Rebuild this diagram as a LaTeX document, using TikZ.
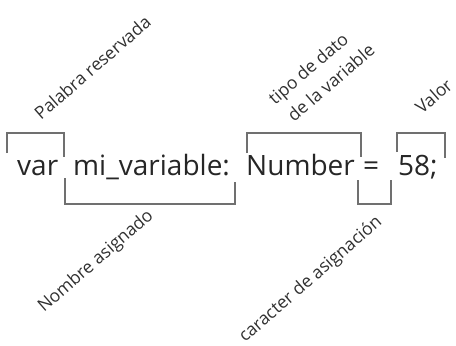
\documentclass[tikz,border=0pt]{standalone}
\usepackage{fontspec}
\setmainfont{Open Sans}
\definecolor{codeink}{HTML}{262626}
\definecolor{bracketgray}{HTML}{707070}
\definecolor{noteink}{HTML}{303030}
\begin{document}
\begin{tikzpicture}[x=1pt,y=-1pt,
  code/.style={anchor=base west,inner sep=0pt,text=codeink,font=\fontsize{28}{30}\selectfont},
  note/.style={anchor=base west,inner sep=0pt,text=noteink,rotate=41,font=\fontsize{17.5}{20}\selectfont},
  bracket/.style={draw=bracketgray,line width=2pt,line cap=butt,line join=miter}]
\useasboundingbox (0,0) rectangle (456,346);

% the statement, one word at a time
\node[code] (kw)   at (17,175)  {var};
\node[code] (name) at (73,175)  {mi\_variable:};
\node[code] (type) at (246,175) {Number};
\node[code] (eq)   at (363,175) {=};
\node[code] (val)  at (398,175) {58;};

% brackets above the statement
\draw[bracket] (7,153) -- (7,133) -- (64,133) -- (64,157);
\draw[bracket] (247,153) -- (247,133) -- (361,133) -- (361,157);
\draw[bracket] (397,152) -- (397,133) -- (445,133) -- (445,158);

% brackets below the statement
\draw[bracket] (65,178) -- (65,204) -- (235,204) -- (235,182);
\draw[bracket] (358,180) -- (358,204) -- (391,204) -- (391,180);

% slanted captions
\node[note] (lblkw)    at (41,121)  {Palabra reservada};
\node[note] (lbltype1) at (275,106) {tipo de dato};
\node[note] (lbltype2) at (294,123) {de la variable};
\node[note] (lblval)   at (422,115) {Valor};
\node[note] (lblname)  at (44,313)  {Nombre asignado};
\node[note] (lbleq)    at (245,343) {caracter de asignación};
\end{tikzpicture}
\end{document}
